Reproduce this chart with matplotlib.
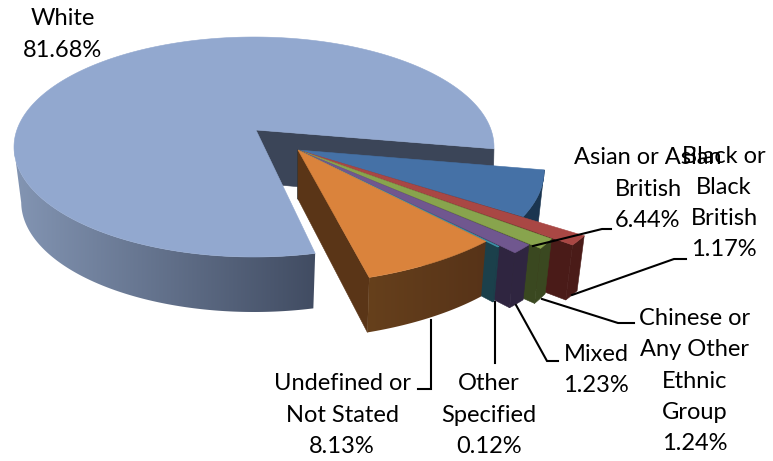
import numpy as np
import matplotlib
matplotlib.use('Agg')
import matplotlib.pyplot as plt
from matplotlib.colors import to_rgb
from matplotlib.patches import Polygon

# Data
white_name = 'White'
white_value = 81.68
categories = ['Asian or Asian\nBritish', 'Black or\nBlack\nBritish',
              'Chinese or\nAny Other\nEthnic\nGroup', 'Mixed',
              'Other\nSpecified', 'Undefined or\nNot Stated']
values = [6.44, 1.17, 1.24, 1.23, 0.12, 8.13]

# Styles, same order as categories
top_colors = ['#4571A6', '#A94744', '#88A44D', '#70578F', '#3F95AC', '#DA833C']
side_colors = ['#1A3550', '#4A1B18', '#3A4820', '#2F2540', '#1B404B', '#5A3517']
radius_start = [250, 342, 319, 310, 291, 274]
radius_end = [268, 344, 324, 312, 291, 287]
label_pos = [(648, 189), (724, 203), (695, 381), (596, 370), (489, 415), (342, 415)]
leaders = [[(533, 246), (602, 229), (611, 229)],
           [(572, 295), (674, 259), (686, 259)],
           [(542, 299), (618, 323), (634, 323)],
           [(516, 305), (547, 361), (558, 361)],
           [(495, 302), (495, 363)],
           [(431, 320), (431, 389), (418, 389)]]

squash = 110 / 240
depth = 55
start_angle = 10.0
white_start = 77.6
white_scale = 0.9937  # the big slice looks a bit narrower in perspective
white_apex = (256, 130)
white_apex_depth = 53
apex = (298, 150)
apex_depth = 49
cx, cy, rx = 254, 147, 240
font_size = 17
line_gap = 1.6


def fill(ax, pts, color, z):
    pts = np.array(pts)
    ax.fill(pts[:, 0], pts[:, 1], color=color, lw=0.4, zorder=z)


def gradient_fill(ax, pts, left, right, z):
    # horizontal colour ramp clipped to the polygon
    pts = np.array(pts)
    f = np.linspace(0, 1, 256)[None, :, None]
    img = np.array(to_rgb(left))[None, None, :] * (1 - f) + np.array(to_rgb(right))[None, None, :] * f
    im = ax.imshow(img, extent=(pts[:, 0].min(), pts[:, 0].max(), 461, 0), aspect='auto', zorder=z)
    im.set_clip_path(Polygon(pts, transform=ax.transData))


def white_point(theta):
    # ray from the apex to the rim of the big ellipse
    u = np.array([np.cos(np.radians(theta)), np.sin(np.radians(theta))])
    c = np.array([cx - white_apex[0], (cy - white_apex[1]) / squash])
    b = u @ c
    r = b + np.sqrt(b * b - c @ c + rx * rx)
    return white_apex[0] + r * u[0], white_apex[1] + r * u[1] * squash


def slice_point(theta, r):
    t = np.radians(theta)
    return apex[0] + r * np.cos(t), apex[1] + r * np.sin(t) * squash


def drop(p, origin_x):
    return origin_x + (p[0] - origin_x) * 0.975, p[1] + depth


plt.rcParams['font.family'] = ['Lato', 'DejaVu Sans']
fig = plt.figure(figsize=(7.73, 4.61), dpi=100)
ax = fig.add_axes([0, 0, 1, 1])

# big slice: inner wall, outer side with gradient, top
white_span = white_value * 3.6 * white_scale
thetas = np.linspace(white_start, white_start + white_span, 300)
rim = [white_point(t) for t in thetas]
end_pt = rim[-1]
fill(ax, [white_apex, end_pt, (end_pt[0] - 1, end_pt[1] + depth),
          (white_apex[0], white_apex[1] + white_apex_depth)], '#3B4558', 1)
# side stops at the leftmost point of the rim, closing edge is the silhouette
side_thetas = np.linspace(white_start, 171, 120)
side_top = [white_point(t) for t in side_thetas]
side_bot = [(cx + (p[0] - cx) * 0.97, p[1] + depth) for p in side_top]
gradient_fill(ax, side_top + side_bot[::-1], '#8395B3', '#414C62', 2)
fill(ax, [white_apex] + rim, '#92A8CF', 3)

# pulled out slices, drawn from the back to the front
angle = start_angle
z = 4
for i, v in enumerate(values):
    span = v * 3.6
    gap = min(0.35, 0.15 * span)
    a0, a1 = angle, angle + span - gap
    angle += span
    ts = np.linspace(a0, a1, 30)
    rs = np.linspace(radius_start[i], radius_end[i], 30)
    arc = [slice_point(t, r) for t, r in zip(ts, rs)]
    arc_bot = [drop(p, apex[0]) for p in arc]
    apex_bot = (apex[0], apex[1] + apex_depth)
    fill(ax, [apex, arc[-1], arc_bot[-1], apex_bot], side_colors[i], z)
    if i == len(values) - 1:
        gradient_fill(ax, arc + arc_bot[::-1], '#66401C', '#573318', z)
    else:
        fill(ax, arc + arc_bot[::-1], side_colors[i], z)
    fill(ax, [apex] + arc, top_colors[i], z + 0.5)
    z += 1

# leaders and labels
for line in leaders:
    pts = np.array(line)
    ax.plot(pts[:, 0], pts[:, 1], color='black', lw=1.5, zorder=20,
            solid_joinstyle='miter')

ax.text(63, 34.5, f'{white_name}\n{white_value:.2f}%', ha='center', va='center',
        fontsize=font_size, color='black', linespacing=line_gap, zorder=21)
for name, v, pos in zip(categories, values, label_pos):
    ax.text(pos[0], pos[1], f'{name}\n{v:.2f}%', ha='center', va='center',
            fontsize=font_size, color='black', linespacing=line_gap, zorder=21)

ax.set_xlim(0, 773)
ax.set_ylim(461, 0)
ax.axis('off')
plt.savefig('out.png', dpi=100)
